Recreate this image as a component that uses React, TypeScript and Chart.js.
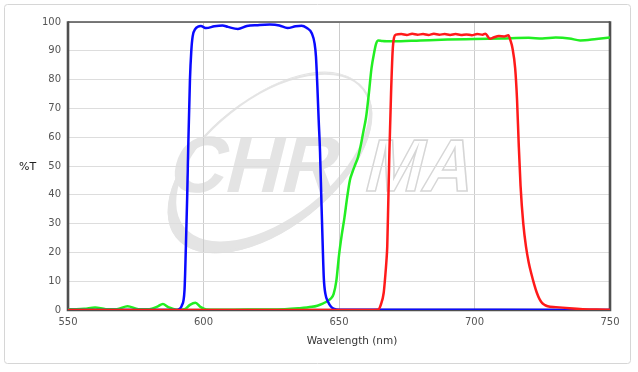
import React, { useEffect, useRef } from 'react';
import { Chart, registerables } from 'chart.js';

Chart.register(...registerables);

// ---- Data (wavelength in nm, transmission in %T) ----
const blueWl = [550, 580, 590, 591, 592, 593, 593.5, 594, 594.4, 595, 595.5, 596, 597, 598, 599, 601, 604, 607, 609, 612.7, 616, 620, 624.5, 628, 631, 634, 636.2, 638, 640, 641, 641.5, 642, 642.5, 643, 643.5, 644, 644.4, 645, 646, 647, 648, 650, 700, 750];
const blueT = [0, 0, 0, 0.3, 1.5, 7, 22, 40, 58, 80, 90, 95, 97.6, 98.4, 98.6, 97.9, 98.5, 98.8, 98.3, 97.6, 98.6, 98.9, 99.1, 98.8, 97.9, 98.5, 98.7, 98.0, 96.0, 92.5, 88, 78, 66, 55, 38, 22, 11, 5.5, 2.8, 1.2, 0.5, 0.1, 0.05, 0];

const greenWl = [550, 553, 556, 560, 564, 568, 572, 576, 580, 583, 585, 587, 590, 593, 595, 597, 599, 601, 605, 610, 620, 630, 635, 640, 642, 644, 645, 646, 647, 648, 649, 650, 651, 652, 653, 654, 655, 656, 657, 658, 659, 660, 661, 662, 663, 663.7, 664.5, 666, 670, 680, 690, 700, 710, 720, 725, 730, 735, 739, 745, 750];
const greenT = [0.3, 0.3, 0.4, 0.9, 0.3, 0.3, 1.3, 0.3, 0.3, 1.2, 2.1, 1.0, 0.1, 0.3, 1.8, 2.5, 1.0, 0.2, 0.1, 0.1, 0.2, 0.3, 0.6, 1.1, 1.5, 2.2, 2.7, 3.3, 4.0, 5.5, 10, 19, 26, 32, 39, 45, 48, 50.5, 53, 57, 62, 67, 75, 84, 89.5, 92.5, 93.6, 93.4, 93.3, 93.6, 93.9, 94.1, 94.3, 94.5, 94.3, 94.6, 94.3, 93.6, 94.1, 94.6];

const redWl = [550, 600, 660, 664.4, 665.5, 666.5, 667, 667.5, 667.8, 668.2, 668.6, 669.2, 669.8, 670.3, 671, 673, 675, 677, 679, 681, 683, 685, 687, 689, 691, 693, 695, 697, 699, 701, 703, 704, 705.7, 707, 709, 711, 712.5, 713.3, 714, 715, 715.7, 716.3, 717, 718, 719, 720, 721, 722, 723, 724, 725, 726, 727, 730, 735, 740, 745, 750];
const redT = [0, 0, 0, 0.1, 2, 6, 11, 17, 22, 38, 55, 75, 90, 94.5, 95.6, 95.8, 95.5, 95.9, 95.6, 95.8, 95.5, 95.9, 95.6, 95.8, 95.5, 95.8, 95.5, 95.7, 95.4, 95.8, 95.6, 95.9, 94.2, 94.6, 95.1, 95.0, 95.4, 93.5, 91, 84, 73, 58, 43, 30, 22, 16.5, 12.5, 9, 6, 3.8, 2.4, 1.7, 1.3, 1.0, 0.6, 0.3, 0.15, 0.1];

const xTicks = [550, 600, 650, 700, 750];
const yTicks = [0, 10, 20, 30, 40, 50, 60, 70, 80, 90, 100];

const xTitle = 'Wavelength (nm)';
const yTitle = '%T';

const toPoints = (wl: number[], t: number[]) => wl.map((x, i) => ({ x, y: t[i] }));

const FONT = '"DejaVu Sans", Verdana, sans-serif';

const decorPlugin = {
  id: 'decor',
  beforeDraw(chart: any) {
    const ctx = chart.ctx as CanvasRenderingContext2D;
    ctx.save();
    ctx.fillStyle = '#ffffff';
    ctx.fillRect(0, 0, chart.width, chart.height);
    // outer frame
    ctx.strokeStyle = '#d6d6d6';
    ctx.lineWidth = 1;
    ctx.beginPath();
    (ctx as any).roundRect(4.5, 4.5, 626, 359, 3);
    ctx.stroke();

    // watermark swoosh (crescent)
    const wm = '#e4e4e4';
    ctx.save();
    ctx.translate(270, 163);
    ctx.rotate(-38.4 * Math.PI / 180);
    ctx.beginPath();
    ctx.ellipse(0, 0, 120, 65, 0, 0, Math.PI * 2);
    ctx.ellipse(6, -3.5, 113, 61, 0, 0, Math.PI * 2);
    ctx.fillStyle = wm;
    ctx.fill('evenodd');
    ctx.beginPath();
    ctx.ellipse(0, 0, 119, 64, 0, 0, Math.PI * 2);
    ctx.strokeStyle = wm;
    ctx.lineWidth = 2;
    ctx.stroke();
    ctx.restore();

    // watermark text
    ctx.save();
    ctx.font = 'bold 80px "Liberation Sans", Arial, sans-serif';
    ctx.textBaseline = 'alphabetic';
    ctx.translate(166, 192);
    ctx.transform(0.97, 0, -0.25, 1, 0, 0);
    ctx.fillStyle = wm;
    ctx.fillText('CHR', 0, 0);
    ctx.restore();

    ctx.save();
    ctx.font = 'bold 74px "Liberation Sans", Arial, sans-serif';
    ctx.textBaseline = 'alphabetic';
    ctx.translate(362, 191);
    ctx.transform(0.93, 0, -0.25, 1, 0, 0);
    ctx.strokeStyle = '#d6d6d6';
    ctx.lineWidth = 1.6;
    ctx.strokeText('MA', 0, 0);
    ctx.restore();

    ctx.restore();
  },
  beforeDatasetsDraw(chart: any) {
    const ctx = chart.ctx as CanvasRenderingContext2D;
    const a = chart.chartArea;
    ctx.save();
    ctx.strokeStyle = '#4f4f4f';
    ctx.lineWidth = 1.6;
    ctx.beginPath();
    ctx.moveTo(a.left, a.top);
    ctx.lineTo(a.right, a.top);
    ctx.stroke();
    ctx.lineWidth = 2.6;
    ctx.beginPath();
    ctx.moveTo(a.left, a.top - 0.8);
    ctx.lineTo(a.left, a.bottom);
    ctx.lineTo(a.right, a.bottom);
    ctx.lineTo(a.right, a.top - 0.8);
    ctx.stroke();
    ctx.restore();
  },
  afterDraw(chart: any) {
    const ctx = chart.ctx as CanvasRenderingContext2D;
    const a = chart.chartArea;
    ctx.save();
    ctx.fillStyle = '#222';
    ctx.font = `11px ${FONT}`;
    ctx.textBaseline = 'middle';
    ctx.textAlign = 'left';
    ctx.fillText(yTitle, 19, (a.top + a.bottom) / 2 + 1);
    ctx.fillStyle = '#333';
    ctx.font = `10.5px ${FONT}`;
    ctx.textAlign = 'center';
    ctx.fillText(xTitle, 352, 341);
    ctx.restore();
  },
};

export default function App() {
  const ref = useRef<HTMLCanvasElement | null>(null);

  useEffect(() => {
    if (!ref.current) return;
    const chart = new Chart(ref.current, {
      type: 'line',
      data: {
        datasets: [
          { label: 'Red', data: toPoints(redWl, redT), borderColor: '#ff1a1a', order: 0 },
          { label: 'Blue', data: toPoints(blueWl, blueT), borderColor: '#0a0aff', order: 1 },
          { label: 'Green', data: toPoints(greenWl, greenT), borderColor: '#22ee22', order: 2 },
        ],
      },
      options: {
        responsive: false,
        animation: false,
        devicePixelRatio: 1,
        layout: { padding: { left: 0, right: 28, top: 22, bottom: 0 } },
        plugins: { legend: { display: false }, tooltip: { enabled: false } },
        elements: {
          point: { radius: 0 },
          line: { borderWidth: 2.5, cubicInterpolationMode: 'monotone' },
        },
        scales: {
          x: {
            type: 'linear',
            min: 550,
            max: 750,
            afterBuildTicks: (s: any) => { s.ticks = xTicks.map((v) => ({ value: v })); },
            afterFit: (s: any) => { s.height = 62; },
            grid: { color: '#cccccc', drawTicks: false, lineWidth: 1 },
            border: { display: false },
            ticks: { padding: 6, color: '#555', font: { family: FONT, size: 10 }, maxRotation: 0 },
          },
          y: {
            type: 'linear',
            min: 0,
            max: 100,
            afterBuildTicks: (s: any) => { s.ticks = yTicks.map((v) => ({ value: v })); },
            afterFit: (s: any) => { s.width = 68; },
            grid: { color: '#dddddd', drawTicks: false, lineWidth: 1 },
            border: { display: false },
            ticks: { padding: 7, color: '#555', font: { family: FONT, size: 10 } },
          },
        },
      },
      plugins: [decorPlugin],
    } as any);
    return () => chart.destroy();
  }, []);

  return (
    <div style={{ position: 'absolute', left: 0, top: 0, width: 638, height: 372 }}>
      <canvas ref={ref} width={638} height={372} style={{ width: 638, height: 372, display: 'block' }} />
    </div>
  );
}
